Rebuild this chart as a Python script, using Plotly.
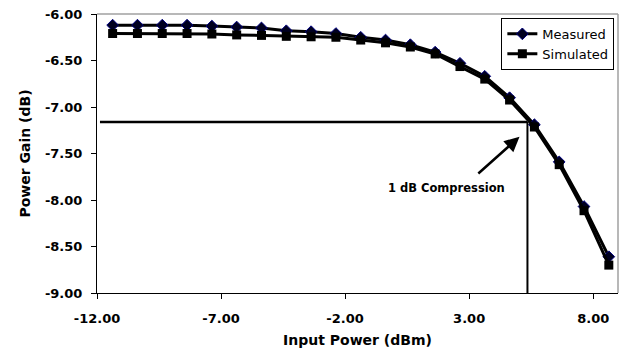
import plotly.graph_objects as go

# Data
input_power = [-11.37, -10.37, -9.37, -8.37, -7.37, -6.37, -5.37, -4.37, -3.37, -2.37,
               -1.37, -0.37, 0.63, 1.63, 2.63, 3.63, 4.63, 5.63, 6.63, 7.63, 8.63]
measured = [-6.12, -6.12, -6.12, -6.12, -6.13, -6.14, -6.15, -6.18, -6.19, -6.21,
            -6.25, -6.28, -6.33, -6.41, -6.53, -6.67, -6.90, -7.19, -7.59, -8.07, -8.61]
simulated = [-6.21, -6.21, -6.21, -6.21, -6.215, -6.225, -6.23, -6.24, -6.245, -6.25,
             -6.28, -6.31, -6.355, -6.43, -6.565, -6.70, -6.925, -7.215, -7.62, -8.115, -8.70]

x_ticks = [-12, -7, -2, 3, 8]
y_ticks = [-6.0, -6.5, -7.0, -7.5, -8.0, -8.5, -9.0]
x_range = [-12, 9]
y_range = [-9, -6]

# 1 dB compression point
comp_x = 5.35
comp_y = -7.16
hline_start = -11.88

# annotation arrow (head / tail) and label position
arrow_head = (5.03, -7.32)
arrow_tail = (3.31, -7.73)
label_pos = (2.10, -7.875)

FONT = "DejaVu Sans"

fig = go.Figure()
fig.add_trace(go.Scatter(
    x=input_power, y=measured, name="Measured", mode="lines+markers",
    line=dict(color="black", width=3),
    marker=dict(symbol="diamond", size=9, color="#000020",
                line=dict(color="#000080", width=1)),
))
fig.add_trace(go.Scatter(
    x=input_power, y=simulated, name="Simulated", mode="lines+markers",
    line=dict(color="black", width=3),
    marker=dict(symbol="square", size=9, color="black",
                line=dict(color="black", width=0)),
))

# 1 dB compression lines
fig.add_shape(type="line", xref="x", yref="y", x0=hline_start, x1=comp_x,
              y0=comp_y, y1=comp_y, line=dict(color="black", width=2.5))
fig.add_shape(type="line", xref="x", yref="y", x0=comp_x, x1=comp_x,
              y0=comp_y, y1=y_range[0], line=dict(color="black", width=2))

# grey plot border (top and right)
fig.add_shape(type="line", xref="paper", yref="paper", x0=0, x1=1, y0=1, y1=1,
              line=dict(color="#a0a0a0", width=1.5))
fig.add_shape(type="line", xref="paper", yref="paper", x0=1, x1=1, y0=0, y1=1,
              line=dict(color="#a0a0a0", width=1.5))

# arrow
fig.add_annotation(x=arrow_head[0], y=arrow_head[1], ax=arrow_tail[0], ay=arrow_tail[1],
                   xref="x", yref="y", axref="x", ayref="y", text="",
                   showarrow=True, arrowhead=2, arrowsize=1.2, arrowwidth=2.5,
                   arrowcolor="black")
fig.add_annotation(x=label_pos[0], y=label_pos[1], xref="x", yref="y",
                   text="<b>1 dB Compression</b>", showarrow=False,
                   font=dict(family=FONT, size=11.5, color="black"))

fig.update_xaxes(
    range=x_range, tickvals=x_ticks, ticktext=[f"{v:.2f}" for v in x_ticks],
    showgrid=False, zeroline=False, showline=True, linecolor="black", linewidth=1,
    ticks="outside", ticklen=5, tickcolor="black", tickwidth=1,
    tickfont=dict(family=FONT, size=13, color="black", weight="bold"),
    title=dict(text="<b>Input Power (dBm)</b>", font=dict(family=FONT, size=14, color="black"),
               standoff=10),
    ticklabelstandoff=8,
)
fig.update_yaxes(
    range=y_range, tickvals=y_ticks, ticktext=[f"{v:.2f}" for v in y_ticks],
    showgrid=False, zeroline=False, showline=True, linecolor="black", linewidth=1,
    ticks="outside", ticklen=5, tickcolor="black", tickwidth=1,
    tickfont=dict(family=FONT, size=13, color="black", weight="bold"),
    title=dict(text="<b>Power Gain (dB)</b>", font=dict(family=FONT, size=14, color="black"),
               standoff=11),
    ticklabelstandoff=6,
)

fig.update_layout(
    width=624, height=364,
    margin=dict(l=97, r=6, t=14, b=71, autoexpand=False),
    plot_bgcolor="white", paper_bgcolor="white",
    legend=dict(x=0.993, y=0.986, xanchor="right", yanchor="top",
                bgcolor="white", bordercolor="black", borderwidth=1,
                font=dict(family=FONT, size=13, color="black"),
                itemwidth=30, tracegroupgap=0),
    showlegend=True,
)

fig.write_html("out.html", config={"displayModeBar": False},
               post_script="document.body.style.margin='0';document.body.style.overflow='hidden';")
